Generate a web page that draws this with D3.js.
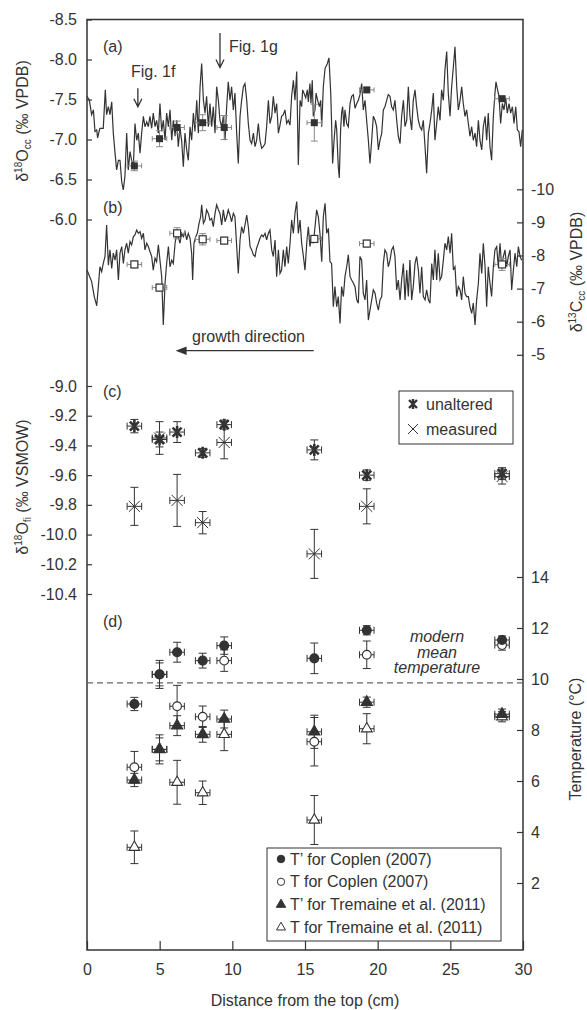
<!DOCTYPE html>
<html>
<head>
<meta charset="utf-8">
<script src="https://cdn.jsdelivr.net/npm/d3@7"></script>
<style>
  body { margin: 0; background: #fff; }
  svg text { font-family: "Liberation Sans", Arial, sans-serif; fill: #333; }
</style>
</head>
<body>
<svg id="chart" width="587" height="1010"></svg>
<script>
// ---- data ----

// discrete samples (same drill positions for all panels), cm from top
const sampleDist = [3.26, 4.99, 6.20, 7.96, 9.44, 15.64, 19.25, 28.56];
const sampleDistErr = [0.5, 0.5, 0.5, 0.5, 0.5, 0.5, 0.5, 0.5];

// (a) d18O calcite of the samples
const d18OccSample = [-6.67, -7.01, -7.15, -7.21, -7.15, -7.21, -7.62, -7.51];
const d18OccErr = [0.06, 0.10, 0.08, 0.10, 0.15, 0.23, 0.03, 0.03];

// (b) d13C calcite of the samples
const d13CccSample = [-7.73, -7.03, -8.67, -8.49, -8.45, -8.50, -8.36, -7.73];
const d13CccErr = [0.10, 0.10, 0.17, 0.17, 0.10, 0.10, 0.10, 0.18];

// (c) fluid inclusion d18O
const d18OfiUnaltered = [-9.27, -9.36, -9.31, -9.45, -9.26, -9.43, -9.60, -9.59];
const d18OfiUnalteredErr = [0.045, 0.05, 0.07, 0.03, 0.03, 0.067, 0.035, 0.04];
const d18OfiMeasured = [-9.81, -9.35, -9.77, -9.92, -9.38, -10.13, -9.81, -9.61];
const d18OfiMeasuredErr = [0.128, 0.11, 0.175, 0.075, 0.11, 0.165, 0.118, 0.05];

// (d) temperatures
const tPrimeCoplen = [9.02, 10.18, 11.05, 10.72, 11.31, 10.81, 11.91, 11.53];
const tPrimeCoplenErr = [0.26, 0.55, 0.39, 0.29, 0.34, 0.60, 0.18, 0.16];
const tCoplen = [6.54, 10.18, 8.93, 8.52, 10.72, 7.54, 10.95, 11.33];
const tCoplenErr = [0.62, 0.45, 0.82, 0.42, 0.42, 0.95, 0.54, 0.20];
const tPrimeTremaine = [6.04, 7.24, 8.17, 7.83, 8.43, 7.93, 9.09, 8.62];
const tPrimeTremaineErr = [0.26, 0.57, 0.39, 0.31, 0.35, 0.65, 0.20, 0.20];
const tTremaine = [3.40, 7.24, 5.95, 5.54, 7.83, 4.47, 8.05, 8.52];
const tTremaineErr = [0.64, 0.45, 0.86, 0.46, 0.64, 0.96, 0.59, 0.20];
const modernMeanT = 9.85;

// high resolution profiles [cm, permil]
const d18OccProfile = [[0.00,-7.54],[0.16,-7.49],[0.32,-7.31],[0.44,-7.37],[0.55,-7.10],[0.67,-7.12],[0.73,-7.02],[0.83,-7.10],[0.89,-7.14],[1.01,-7.14],[1.12,-7.14],[1.26,-7.62],[1.35,-7.31],[1.47,-7.41],[1.58,-7.31],[1.70,-7.47],[1.81,-7.08],[1.93,-6.83],[2.04,-6.62],[2.16,-6.74],[2.27,-6.74],[2.39,-6.47],[2.50,-6.37],[2.61,-6.54],[2.73,-7.08],[2.84,-6.62],[2.96,-6.85],[3.07,-6.74],[3.19,-6.66],[3.30,-7.20],[3.42,-6.99],[3.53,-7.08],[3.65,-6.83],[3.76,-7.08],[3.88,-7.29],[3.99,-7.16],[4.11,-7.22],[4.22,-7.16],[4.33,-7.29],[4.45,-7.14],[4.56,-7.33],[4.68,-7.16],[4.79,-7.24],[4.91,-7.08],[5.02,-7.45],[5.14,-7.10],[5.25,-7.24],[5.37,-6.99],[5.48,-7.33],[5.60,-7.16],[5.71,-7.37],[5.83,-6.99],[5.94,-7.24],[6.06,-7.04],[6.17,-7.24],[6.28,-6.91],[6.40,-7.14],[6.51,-6.99],[6.63,-6.66],[6.74,-7.08],[6.86,-6.87],[6.97,-6.74],[7.09,-7.16],[7.20,-6.99],[7.32,-7.33],[7.43,-7.10],[7.55,-7.49],[7.66,-7.08],[7.78,-7.66],[7.89,-7.95],[8.01,-7.49],[8.12,-7.33],[8.23,-7.54],[8.35,-7.16],[8.46,-7.45],[8.58,-7.16],[8.69,-7.41],[8.81,-7.08],[8.92,-7.66],[9.04,-7.49],[9.15,-7.24],[9.27,-7.16],[9.38,-7.29],[9.50,-6.99],[9.61,-7.41],[9.72,-7.72],[9.84,-7.49],[9.95,-7.66],[10.07,-7.37],[10.18,-7.58],[10.30,-7.08],[10.41,-6.70],[10.53,-7.29],[10.64,-7.49],[10.76,-7.66],[10.87,-7.70],[10.99,-7.49],[11.10,-7.20],[11.22,-6.99],[11.33,-6.95],[11.45,-7.08],[11.56,-6.91],[11.67,-6.99],[11.79,-7.20],[11.90,-6.99],[12.02,-6.89],[12.13,-6.91],[12.25,-6.95],[12.36,-7.16],[12.48,-7.49],[12.59,-7.20],[12.71,-7.29],[12.82,-7.54],[12.94,-7.33],[13.05,-7.45],[13.17,-7.08],[13.28,-7.18],[13.39,-7.29],[13.51,-7.31],[13.62,-7.37],[13.74,-7.20],[13.85,-7.24],[13.97,-7.18],[14.08,-7.54],[14.20,-7.74],[14.31,-7.49],[14.43,-7.85],[14.54,-6.68],[14.66,-7.49],[14.77,-7.41],[14.84,-7.62],[14.93,-7.58],[15.05,-7.52],[15.16,-7.62],[15.23,-7.47],[15.34,-7.70],[15.41,-7.45],[15.50,-7.74],[15.57,-7.29],[15.69,-7.37],[15.76,-7.58],[15.87,-7.49],[15.99,-7.41],[16.08,-7.49],[16.15,-7.16],[16.26,-7.66],[16.38,-7.89],[16.54,-7.95],[16.65,-8.02],[16.77,-7.58],[16.83,-7.20],[16.90,-6.70],[17.00,-6.99],[17.11,-7.24],[17.18,-7.12],[17.29,-6.66],[17.36,-6.52],[17.45,-7.12],[17.52,-7.33],[17.59,-7.41],[17.68,-7.16],[17.75,-7.37],[17.87,-7.20],[17.98,-7.16],[18.10,-7.45],[18.21,-7.54],[18.33,-7.56],[18.44,-7.39],[18.56,-7.45],[18.67,-7.49],[18.78,-7.56],[18.90,-7.70],[19.01,-7.37],[19.13,-7.49],[19.24,-7.24],[19.36,-6.99],[19.47,-6.70],[19.59,-6.99],[19.70,-7.29],[19.82,-7.24],[19.93,-7.16],[20.05,-6.87],[20.16,-6.99],[20.28,-7.08],[20.39,-7.37],[20.50,-7.41],[20.62,-7.49],[20.73,-7.56],[20.85,-7.54],[20.96,-7.41],[21.08,-7.37],[21.19,-7.49],[21.31,-7.24],[21.42,-7.04],[21.54,-6.95],[21.65,-7.29],[21.77,-7.49],[21.88,-7.16],[22.00,-7.24],[22.11,-7.66],[22.22,-7.29],[22.34,-7.12],[22.45,-7.49],[22.57,-7.62],[22.68,-7.41],[22.80,-7.24],[22.91,-7.16],[23.03,-7.12],[23.14,-7.24],[23.26,-6.91],[23.37,-6.58],[23.49,-7.08],[23.60,-7.20],[23.72,-7.37],[23.83,-7.58],[23.94,-6.99],[24.06,-7.20],[24.17,-7.41],[24.29,-7.24],[24.40,-7.62],[24.52,-7.49],[24.63,-7.87],[24.75,-8.10],[24.86,-7.58],[24.98,-7.29],[25.09,-7.66],[25.21,-7.91],[25.32,-8.16],[25.44,-7.66],[25.55,-7.37],[25.67,-7.49],[25.78,-7.66],[25.89,-7.45],[26.01,-7.29],[26.12,-7.37],[26.24,-7.20],[26.35,-7.04],[26.47,-7.16],[26.58,-6.99],[26.70,-7.08],[26.81,-6.91],[26.93,-7.24],[27.04,-6.99],[27.16,-6.87],[27.27,-7.16],[27.39,-7.29],[27.50,-6.99],[27.61,-7.33],[27.73,-6.91],[27.84,-6.74],[27.96,-7.29],[28.07,-7.58],[28.14,-7.72],[28.23,-7.64],[28.35,-7.54],[28.46,-7.20],[28.58,-7.45],[28.69,-7.37],[28.81,-7.52],[28.92,-7.33],[29.04,-7.45],[29.15,-7.33],[29.27,-7.41],[29.38,-7.20],[29.50,-7.41],[29.61,-7.12],[29.72,-7.10],[29.84,-6.91],[29.95,-7.12]];

const d13CccProfile = [[0.00,-7.56],[0.32,-7.21],[0.50,-6.76],[0.67,-6.48],[0.78,-7.06],[0.89,-7.66],[1.01,-7.51],[1.12,-7.76],[1.24,-7.97],[1.35,-8.92],[1.47,-7.71],[1.58,-8.17],[1.70,-7.61],[1.81,-8.07],[1.93,-7.86],[2.04,-8.17],[2.16,-7.26],[2.27,-8.07],[2.39,-8.27],[2.50,-7.76],[2.61,-8.17],[2.73,-8.37],[2.84,-8.07],[2.96,-8.42],[3.07,-8.32],[3.19,-8.57],[3.30,-8.62],[3.42,-8.77],[3.53,-8.67],[3.65,-8.72],[3.76,-8.52],[3.88,-8.67],[3.99,-8.17],[4.11,-8.37],[4.22,-8.27],[4.33,-8.12],[4.45,-7.97],[4.56,-7.56],[4.68,-7.92],[4.79,-7.81],[4.91,-8.32],[5.02,-7.86],[5.14,-7.36],[5.25,-5.90],[5.37,-7.16],[5.48,-7.76],[5.60,-8.27],[5.71,-7.66],[5.83,-7.86],[5.94,-7.76],[6.06,-8.37],[6.17,-8.67],[6.28,-8.57],[6.40,-8.37],[6.51,-8.67],[6.63,-8.57],[6.74,-8.72],[6.86,-8.47],[6.97,-8.67],[7.09,-8.52],[7.20,-8.07],[7.27,-7.26],[7.36,-8.37],[7.48,-8.57],[7.59,-8.67],[7.71,-8.97],[7.82,-9.17],[7.89,-9.53],[8.01,-8.97],[8.12,-9.07],[8.23,-9.38],[8.35,-9.27],[8.46,-9.07],[8.58,-9.12],[8.69,-8.87],[8.81,-9.27],[8.92,-9.53],[9.04,-9.38],[9.15,-9.27],[9.27,-8.92],[9.38,-9.38],[9.50,-9.02],[9.61,-9.17],[9.72,-9.38],[9.84,-9.22],[9.95,-9.02],[10.07,-9.27],[10.18,-9.17],[10.30,-8.27],[10.41,-7.46],[10.53,-8.47],[10.64,-8.87],[10.76,-8.67],[10.87,-8.92],[10.99,-9.22],[11.10,-8.87],[11.22,-8.27],[11.33,-8.17],[11.45,-8.02],[11.56,-7.97],[11.67,-8.22],[11.79,-8.37],[11.90,-8.52],[12.02,-8.62],[12.13,-8.57],[12.25,-8.67],[12.36,-8.47],[12.48,-8.67],[12.59,-8.77],[12.71,-8.17],[12.82,-7.97],[12.94,-8.47],[13.05,-7.36],[13.17,-8.17],[13.28,-7.46],[13.39,-7.56],[13.51,-8.17],[13.62,-7.66],[13.74,-8.27],[13.85,-7.76],[13.97,-8.37],[14.08,-9.07],[14.20,-8.67],[14.31,-9.27],[14.43,-9.63],[14.54,-8.67],[14.66,-9.07],[14.77,-8.37],[14.89,-7.97],[15.00,-7.56],[15.12,-8.37],[15.23,-8.87],[15.34,-8.27],[15.46,-8.57],[15.57,-8.37],[15.69,-8.87],[15.80,-9.38],[15.92,-9.17],[16.03,-8.67],[16.15,-7.81],[16.26,-9.17],[16.38,-9.58],[16.49,-8.67],[16.61,-8.82],[16.72,-7.81],[16.83,-7.76],[16.95,-6.45],[17.06,-7.06],[17.18,-6.45],[17.29,-6.76],[17.41,-5.95],[17.52,-7.06],[17.64,-6.76],[17.75,-7.36],[17.87,-7.66],[17.98,-8.02],[18.10,-7.36],[18.21,-7.26],[18.33,-7.16],[18.44,-7.06],[18.56,-6.66],[18.67,-6.56],[18.78,-7.97],[18.90,-7.86],[19.01,-6.86],[19.13,-6.66],[19.24,-7.26],[19.36,-6.05],[19.47,-6.35],[19.59,-6.66],[19.70,-6.96],[19.82,-6.86],[19.93,-6.56],[20.05,-6.35],[20.16,-6.66],[20.28,-6.76],[20.39,-7.76],[20.50,-8.17],[20.62,-8.07],[20.73,-7.66],[20.85,-7.86],[20.96,-8.17],[21.08,-8.27],[21.19,-7.97],[21.31,-6.96],[21.42,-7.26],[21.54,-6.66],[21.65,-7.26],[21.77,-7.76],[21.88,-6.66],[22.00,-7.56],[22.11,-6.76],[22.22,-7.86],[22.34,-6.66],[22.45,-7.06],[22.57,-7.76],[22.68,-7.97],[22.80,-7.56],[22.91,-6.86],[23.03,-7.66],[23.14,-6.76],[23.26,-6.66],[23.37,-6.96],[23.49,-6.66],[23.60,-6.56],[23.72,-7.76],[23.83,-7.26],[23.94,-8.17],[24.06,-7.26],[24.17,-8.07],[24.29,-7.26],[24.40,-7.36],[24.52,-7.86],[24.63,-8.37],[24.75,-8.17],[24.86,-8.57],[24.98,-8.07],[25.09,-8.67],[25.21,-7.56],[25.32,-7.66],[25.44,-6.76],[25.55,-7.06],[25.67,-6.96],[25.78,-6.66],[25.89,-7.36],[26.01,-6.86],[26.12,-6.76],[26.24,-6.76],[26.35,-6.45],[26.47,-6.25],[26.58,-6.56],[26.70,-5.90],[26.81,-6.66],[26.93,-7.16],[27.04,-8.07],[27.16,-7.46],[27.27,-8.37],[27.39,-7.66],[27.50,-6.45],[27.61,-7.66],[27.73,-7.16],[27.84,-6.76],[27.96,-7.66],[28.07,-8.17],[28.19,-8.27],[28.30,-7.66],[28.42,-8.37],[28.53,-7.66],[28.65,-7.97],[28.76,-8.17],[28.88,-7.66],[28.99,-7.97],[29.11,-8.17],[29.22,-6.96],[29.34,-7.56],[29.45,-8.07],[29.57,-7.66],[29.68,-8.27],[29.80,-7.97],[29.91,-7.86]];

// tick labels
const distTicks = [0, 5, 10, 15, 20, 25, 30];
const d18OccTicks = [-8.5, -8.0, -7.5, -7.0, -6.5, -6.0];
const d13CccTicks = [-10, -9, -8, -7, -6, -5];
const d18OfiTicks = [-9.0, -9.2, -9.4, -9.6, -9.8, -10.0, -10.2, -10.4];
const tempTicks = [2, 4, 6, 8, 10, 12, 14];

// ---- layout ----
const ink = "#333";
const svg = d3.select("#chart");
svg.append("rect").attr("width", 587).attr("height", 1010).attr("fill", "#fff");

const x = d3.scaleLinear().domain([0, 30]).range([87, 523]);
const yA = d3.scaleLinear().domain([-8.5, -6.0]).range([19.5, 219.5]);
const yB = d3.scaleLinear().domain([-10, -5]).range([189.3, 354.8]);
const yC = d3.scaleLinear().domain([-9.0, -10.4]).range([386, 594]);
const yD = d3.scaleLinear().domain([14, 2]).range([577, 883]);

const styleAxis = g => {
    g.attr("font-size", 16).attr("font-family", "Liberation Sans, Arial, sans-serif").attr("color", ink);
    g.select(".domain").remove();
    g.selectAll(".tick line").attr("stroke-width", 1.2);
}

// left axes
svg.append("g").attr("transform", "translate(87,0)")
    .call(d3.axisLeft(yA).tickValues(d18OccTicks).tickSize(-5).tickPadding(10).tickFormat(d => d.toFixed(1)))
    .call(styleAxis);
svg.append("g").attr("transform", "translate(87,0)")
    .call(d3.axisLeft(yC).tickValues(d18OfiTicks).tickSize(-5).tickPadding(10).tickFormat(d => d.toFixed(1)))
    .call(styleAxis);

// right axes
svg.append("g").attr("transform", "translate(523,0)")
    .call(d3.axisRight(yB).tickValues(d13CccTicks).tickSize(-6).tickPadding(8).tickFormat(d => d))
    .call(styleAxis);
svg.append("g").attr("transform", "translate(523,0)")
    .call(d3.axisRight(yD).tickValues(tempTicks).tickSize(-6).tickPadding(8).tickFormat(d => d))
    .call(styleAxis);

// bottom axis
svg.append("g").attr("transform", "translate(0,950)")
    .call(d3.axisBottom(x).tickValues(distTicks).tickSize(-9).tickPadding(13.5))
    .call(styleAxis);

// frame
svg.append("rect").attr("x", 87).attr("y", 19.5).attr("width", 436).attr("height", 930.5)
    .attr("fill", "none").attr("stroke", ink).attr("stroke-width", 1.5);

// axis titles (rotated, with sub/superscripts)
const rotTitle = (cx, cy, parts) => {
    let t = svg.append("text").attr("transform", `translate(${cx},${cy}) rotate(-90)`)
        .attr("text-anchor", "middle").attr("font-size", 16);
    parts.forEach(p => {
        t.append("tspan").attr("font-size", p[1]).attr("dy", p[2]).text(p[0]);
    });
}
rotTitle(28, 121, [["δ", 16, 0], ["18", 10, -6], ["O", 16, 6], ["cc", 10, 3], [" (‰ VPDB)", 16, -3]]);
rotTitle(28, 487, [["δ", 16, 0], ["18", 10, -6], ["O", 16, 6], ["fi", 10, 3], [" (‰ VSMOW)", 16, -3]]);
rotTitle(582, 272, [["δ", 16, 0], ["13", 10, -6], ["C", 16, 6], ["cc", 10, 3], [" (‰ VPDB)", 16, -3]]);
rotTitle(581, 739, [["Temperature (°C)", 16, 0]]);

svg.append("text").attr("x", 305).attr("y", 1006).attr("text-anchor", "middle")
    .attr("font-size", 16).text("Distance from the top (cm)");

// panel letters
[["(a)", 52], ["(b)", 213], ["(c)", 397], ["(d)", 627]].forEach(p => {
    svg.append("text").attr("x", 103).attr("y", p[1]).attr("font-size", 16).text(p[0]);
});

// ---- profiles ----
const lineA = d3.line().x(d => x(d[0])).y(d => yA(d[1]));
const lineB = d3.line().x(d => x(d[0])).y(d => yB(d[1]));
svg.append("path").attr("d", lineA(d18OccProfile)).attr("fill", "none").attr("stroke", ink).attr("stroke-width", 1.2);
svg.append("path").attr("d", lineB(d13CccProfile)).attr("fill", "none").attr("stroke", ink).attr("stroke-width", 1.2);

// error bars helper
const errorBars = (ys, yErr, yScale, color, capV, capH) => {
    let g = svg.append("g").attr("stroke", color).attr("stroke-width", 1).attr("fill", "none");
    sampleDist.forEach((d, i) => {
        let cx = x(d), cy = yScale(ys[i]);
        let y0 = yScale(ys[i] - yErr[i]), y1 = yScale(ys[i] + yErr[i]);
        let x0 = x(d - sampleDistErr[i]), x1 = x(d + sampleDistErr[i]);
        g.append("line").attr("x1", cx).attr("x2", cx).attr("y1", y0).attr("y2", y1);
        g.append("line").attr("x1", cx - capV).attr("x2", cx + capV).attr("y1", y0).attr("y2", y0);
        g.append("line").attr("x1", cx - capV).attr("x2", cx + capV).attr("y1", y1).attr("y2", y1);
        g.append("line").attr("x1", x0).attr("x2", x1).attr("y1", cy).attr("y2", cy);
        g.append("line").attr("x1", x0).attr("x2", x0).attr("y1", cy - capH).attr("y2", cy + capH);
        g.append("line").attr("x1", x1).attr("x2", x1).attr("y1", cy - capH).attr("y2", cy + capH);
    });
}

// (a) samples
errorBars(d18OccSample, d18OccErr, yA, "#888", 3.5, 2.5);
svg.append("g").selectAll("rect").data(d18OccSample).join("rect")
    .attr("x", (d, i) => x(sampleDist[i]) - 3.5).attr("y", d => yA(d) - 3.5)
    .attr("width", 7).attr("height", 7).attr("fill", ink);

// (b) samples
errorBars(d13CccSample, d13CccErr, yB, "#888", 3.5, 2.5);
svg.append("g").selectAll("rect").data(d13CccSample).join("rect")
    .attr("x", (d, i) => x(sampleDist[i]) - 3.5).attr("y", d => yB(d) - 3.5)
    .attr("width", 7).attr("height", 7).attr("fill", "#fff").attr("stroke", ink).attr("stroke-width", 1.2);

// ---- (c) fluid inclusions ----
const starPath = (s, v) => `M${-s},${-s}L${s},${s}M${-s},${s}L${s},${-s}` + (v ? `M0,${-v}L0,${v}` : "");

errorBars(d18OfiMeasured, d18OfiMeasuredErr, yC, ink, 4, 3.5);
errorBars(d18OfiUnaltered, d18OfiUnalteredErr, yC, ink, 4, 3.5);
svg.append("g").selectAll("path").data(d18OfiMeasured).join("path")
    .attr("transform", (d, i) => `translate(${x(sampleDist[i])},${yC(d)})`)
    .attr("d", starPath(5.5, 0)).attr("stroke", ink).attr("stroke-width", 1).attr("fill", "none");
svg.append("g").selectAll("path").data(d18OfiUnaltered).join("path")
    .attr("transform", (d, i) => `translate(${x(sampleDist[i])},${yC(d)})`)
    .attr("d", starPath(4.5, 6)).attr("stroke", ink).attr("stroke-width", 2.6).attr("fill", "none");

// legend (c)
svg.append("rect").attr("x", 399).attr("y", 391).attr("width", 114).attr("height", 53)
    .attr("fill", "#fff").attr("stroke", ink).attr("stroke-width", 1);
svg.append("path").attr("transform", "translate(413,404)").attr("d", starPath(4, 5))
    .attr("stroke", ink).attr("stroke-width", 2.4).attr("fill", "none");
svg.append("path").attr("transform", "translate(413,429)").attr("d", starPath(5, 0))
    .attr("stroke", ink).attr("stroke-width", 1).attr("fill", "none");
svg.append("text").attr("x", 426).attr("y", 409.5).attr("font-size", 16).text("unaltered");
svg.append("text").attr("x", 426).attr("y", 434.5).attr("font-size", 16).text("measured");

// ---- (d) temperatures ----
svg.append("line").attr("x1", 87).attr("x2", 523).attr("y1", yD(modernMeanT)).attr("y2", yD(modernMeanT))
    .attr("stroke", "#666").attr("stroke-width", 1.2).attr("stroke-dasharray", "6,4");
["modern", "mean", "temperature"].forEach((w, i) => {
    svg.append("text").attr("x", 437).attr("y", 642 + i * 15.5).attr("text-anchor", "middle")
        .attr("font-size", 16).attr("font-style", "italic").text(w);
});

const tSeries = [
    { vals: tPrimeCoplen, err: tPrimeCoplenErr, sym: d3.symbolCircle, size: 64, fill: ink, label: "T’ for Coplen (2007)" },
    { vals: tCoplen, err: tCoplenErr, sym: d3.symbolCircle, size: 60, fill: "#fff", label: "T for Coplen (2007)" },
    { vals: tPrimeTremaine, err: tPrimeTremaineErr, sym: d3.symbolTriangle, size: 55, fill: ink, label: "T’ for Tremaine et al. (2011)" },
    { vals: tTremaine, err: tTremaineErr, sym: d3.symbolTriangle, size: 50, fill: "#fff", label: "T for Tremaine et al. (2011)" }
];
tSeries.forEach(s => errorBars(s.vals, s.err, yD, ink, 4, 3.5));
// open markers first so the filled ones sit on top where they coincide
[1, 3, 0, 2].map(i => tSeries[i]).forEach(s => {
    svg.append("g").selectAll("path").data(s.vals).join("path")
        .attr("transform", (d, i) => `translate(${x(sampleDist[i])},${yD(d)})`)
        .attr("d", d3.symbol().type(s.sym).size(s.size))
        .attr("fill", s.fill).attr("stroke", ink).attr("stroke-width", 1.1);
});

// legend (d)
svg.append("rect").attr("x", 267).attr("y", 848).attr("width", 234).attr("height", 93)
    .attr("fill", "#fff").attr("stroke", ink).attr("stroke-width", 1);
tSeries.forEach((s, i) => {
    let cy = 859 + i * 22.8;
    svg.append("path").attr("transform", `translate(281,${cy})`)
        .attr("d", d3.symbol().type(s.sym).size(s.size * 0.7))
        .attr("fill", s.fill).attr("stroke", ink).attr("stroke-width", 1);
    svg.append("text").attr("x", 290).attr("y", cy + 5.5).attr("font-size", 16).text(s.label);
});

// ---- annotations ----
const downArrow = (cx, top, bottom) => {
    svg.append("path").attr("d", `M${cx},${top}L${cx},${bottom}M${cx - 4},${bottom - 8}L${cx},${bottom}L${cx + 4},${bottom - 8}`)
        .attr("stroke", ink).attr("stroke-width", 1.3).attr("fill", "none");
}
downArrow(x(3.5), yA(-7.64), yA(-7.41));
svg.append("text").attr("x", 131).attr("y", 77).attr("font-size", 16).text("Fig. 1f");
downArrow(x(9.15), yA(-8.33), yA(-7.9));
svg.append("text").attr("x", 229).attr("y", 52).attr("font-size", 16).text("Fig. 1g");

// growth direction arrow
svg.append("line").attr("x1", x(6.5)).attr("x2", x(15.6)).attr("y1", 350.7).attr("y2", 350.7)
    .attr("stroke", ink).attr("stroke-width", 1.3);
svg.append("path").attr("d", `M${x(6.1)},350.7L${x(6.1) + 11},346.5L${x(6.1) + 11},354.9Z`).attr("fill", ink);
svg.append("text").attr("x", 192).attr("y", 342).attr("font-size", 16).text("growth direction");
</script>
</body>
</html>
